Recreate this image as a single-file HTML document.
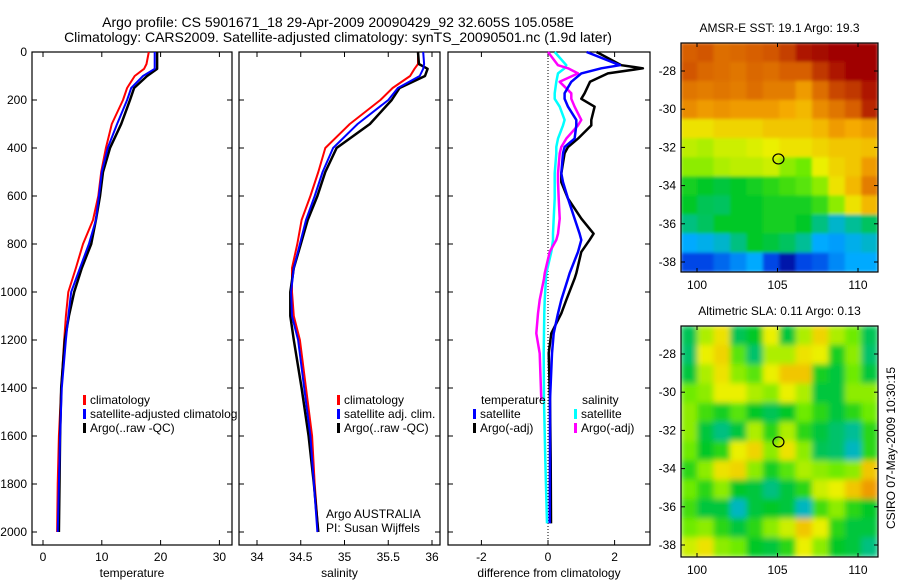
<!DOCTYPE html>
<html><head><meta charset="utf-8">
<style>
html,body{margin:0;padding:0;background:#fff;}
svg{display:block;font-family:"Liberation Sans",sans-serif;}
</style></head>
<body>
<svg id="fig" width="900" height="580" viewBox="0 0 900 580" xmlns="http://www.w3.org/2000/svg">
<text x="338" y="27" font-size="14" text-anchor="middle">Argo profile: CS 5901671_18 29-Apr-2009 20090429_92 32.605S 105.058E</text>
<text x="338" y="42" font-size="14" text-anchor="middle">Climatology: CARS2009. Satellite-adjusted climatology: synTS_20090501.nc (1.9d later)</text>
<g id="plots"></g>
</svg>
<script>
// ---- depth grid ----
const depths = [0,50,70,100,150,200,300,400,500,600,700,800,900,1000,1100,1200,1400,1600,1800,2000];
// temperature
const tempClim = [18.0,17.6,17.2,15.6,14.3,13.6,11.7,10.7,9.9,9.4,8.5,6.8,5.6,4.3,3.9,3.6,3.1,2.7,2.5,2.4];
const tempSat  = [19.0,19.0,19.0,17.0,15.0,14.3,12.6,11.0,10.0,9.5,9.0,7.8,6.3,4.8,4.3,3.9,3.2,2.9,2.7,2.5];
const tempArgo = [19.4,19.4,19.4,17.7,15.5,14.8,13.3,11.4,10.2,9.7,9.0,8.2,6.6,5.3,4.4,3.7,3.1,2.9,2.8,2.7];
// salinity
const salClim = [35.84,35.84,35.80,35.75,35.55,35.41,35.06,34.78,34.70,34.61,34.51,34.46,34.40,34.40,34.42,34.49,34.56,34.63,34.66,34.70];
const salSat  = [35.90,35.91,35.90,35.86,35.61,35.50,35.15,34.87,34.75,34.66,34.56,34.49,34.42,34.39,34.40,34.47,34.54,34.61,34.65,34.69];
const salArgo = [35.84,35.85,35.95,35.92,35.63,35.54,35.29,34.91,34.78,34.69,34.58,34.50,34.42,34.38,34.38,34.42,34.51,34.59,34.65,34.70];
// differences
const diffDepths = [0,55,68,89,124,172,195,228,283,306,361,396,422,506,542,611,694,757,783,833,922,944,1033,1089,1172,1256,1450,1700,1964];
const dTempArgo = [1.46,2.2,2.85,1.8,1.26,1.1,1.0,1.4,1.3,1.3,0.9,0.6,0.5,0.4,0.4,0.6,1.0,1.37,1.25,1.0,0.85,0.8,0.55,0.4,0.1,0.02,0.06,0.08,0.09];
const dTempSat  = [1.16,2.16,1.6,1.0,0.7,0.5,0.5,0.6,0.85,0.85,0.8,0.5,0.45,0.4,0.45,0.6,0.8,0.95,1.0,0.9,0.65,0.6,0.4,0.3,0.17,0.12,0.06,0.06,0.05];
const dSalSat   = [0.2,0.55,0.5,0.3,0.25,0.2,0.2,0.35,0.5,0.45,0.3,0.25,0.25,0.2,0.2,0.2,0.17,0.15,0.15,0.1,-0.05,-0.06,-0.1,-0.11,-0.12,-0.13,-0.12,-0.08,-0.03];
const dSalArgo  = [0.0,0.3,0.6,0.9,0.35,0.7,0.7,0.8,1.0,0.9,0.55,0.4,0.35,0.3,0.3,0.32,0.35,0.3,0.25,0.05,-0.1,-0.12,-0.25,-0.3,-0.35,-0.25,-0.2,null,null];
// ticks
const depthTicks = [0,200,400,600,800,1000,1200,1400,1600,1800,2000];
const tempTicks = [0,10,20,30];
const salTicks = [34,34.5,35,35.5,36];
const salTickLabels = ["34","34.5","35","35.5","36"];
const diffTicks = [-2,0,2];
// maps
const lonTicks = [100,105,110];
const latTicks = [-28,-30,-32,-34,-36,-38];
const floatLon = 105.058, floatLat = -32.605;
const sstGrid = [
[0.88,0.89,0.86,0.87,0.88,0.89,0.92,0.97,0.99,1,1,1],
[0.89,0.87,0.86,0.85,0.87,0.86,0.88,0.88,0.93,0.97,1,1],
[0.85,0.84,0.85,0.84,0.86,0.84,0.84,0.8,0.86,0.91,0.93,0.97],
[0.82,0.8,0.81,0.8,0.8,0.8,0.78,0.76,0.82,0.85,0.88,0.95],
[0.7,0.7,0.72,0.72,0.72,0.74,0.74,0.74,0.76,0.8,0.78,0.8],
[0.65,0.64,0.66,0.66,0.67,0.68,0.7,0.7,0.72,0.74,0.74,0.75],
[0.62,0.62,0.64,0.65,0.65,0.66,0.62,0.6,0.68,0.72,0.74,0.8],
[0.52,0.5,0.48,0.5,0.52,0.54,0.56,0.58,0.62,0.7,0.76,0.84],
[0.5,0.46,0.45,0.5,0.5,0.52,0.52,0.52,0.55,0.62,0.7,0.76],
[0.42,0.45,0.5,0.5,0.5,0.52,0.52,0.5,0.42,0.35,0.4,0.45],
[0.3,0.32,0.35,0.42,0.5,0.48,0.45,0.4,0.3,0.28,0.32,0.35],
[0.15,0.15,0.2,0.25,0.3,0.15,0.05,0.15,0.18,0.25,0.3,0.3]];
const slaGrid = [
[0.46,0.64,0.7,0.46,0.5,0.68,0.48,0.64,0.72,0.64,0.6,0.46],
[0.44,0.68,0.72,0.58,0.44,0.64,0.64,0.7,0.68,0.52,0.62,0.44],
[0.48,0.64,0.7,0.62,0.58,0.68,0.74,0.74,0.52,0.48,0.6,0.48],
[0.6,0.62,0.68,0.68,0.64,0.62,0.68,0.64,0.48,0.48,0.62,0.62],
[0.62,0.56,0.52,0.58,0.5,0.46,0.5,0.6,0.54,0.48,0.54,0.6],
[0.62,0.48,0.42,0.48,0.64,0.54,0.64,0.54,0.48,0.44,0.4,0.54],
[0.6,0.5,0.54,0.68,0.72,0.62,0.7,0.62,0.46,0.44,0.36,0.54],
[0.54,0.62,0.7,0.72,0.62,0.52,0.58,0.64,0.62,0.6,0.62,0.74],
[0.6,0.54,0.62,0.5,0.48,0.42,0.48,0.54,0.66,0.68,0.74,0.8],
[0.56,0.48,0.48,0.36,0.48,0.5,0.48,0.36,0.56,0.62,0.54,0.5],
[0.6,0.62,0.54,0.48,0.54,0.62,0.66,0.74,0.68,0.54,0.48,0.48],
[0.66,0.7,0.62,0.6,0.5,0.48,0.54,0.68,0.62,0.5,0.48,0.42]];

const NS = "http://www.w3.org/2000/svg";
const root = document.getElementById('plots');
function mk(tag, attrs, parent){ const e=document.createElementNS(NS,tag); for(const k in attrs) e.setAttribute(k,attrs[k]); (parent||root).appendChild(e); return e; }

const yTop=52, yPerM=0.24, axBottom=545;
const yD = d => yTop + d*yPerM;
const xT = t => 43 + t*5.88;
const xS = s => 257 + (s-34)*87.5;
const xDf = v => 548 + v*33.3;

function panel(name, x0, x1, xTickVals, xTickLbls, xf, xlabel, showY){
  const g = mk('g',{});
  
  
  const r = mk('rect',{x:x0,y:yTop,width:x1-x0,height:axBottom-yTop,fill:'none',stroke:'#000','stroke-width':1.2},g);
  
  
  depthTicks.forEach(d=>{
    const y=yD(d);
    mk('line',{x1:x0,x2:x0+5,y1:y,y2:y,stroke:'#000'},g);
    mk('line',{x1:x1-5,x2:x1,y1:y,y2:y,stroke:'#000'},g);
    if(showY){
      const t=mk('text',{x:x0-5,y:y+4,'font-size':12,'text-anchor':'end'},g);
      t.textContent=d;
      
      
    }
  });
  xTickVals.forEach((v,i)=>{
    const x=xf(v);
    mk('line',{x1:x,x2:x,y1:axBottom,y2:axBottom-5,stroke:'#000'},g);
    mk('line',{x1:x,x2:x,y1:yTop,y2:yTop+5,stroke:'#000'},g);
    const t=mk('text',{x:x,y:561,'font-size':12,'text-anchor':'middle'},g);
    t.textContent=xTickLbls[i];
    
    
  });
  const xl=mk('text',{x:(x0+x1)/2,y:577,'font-size':12,'text-anchor':'middle'},g);
  xl.textContent=xlabel;
  
  
  return g;
}
function line(g, ds, vals, xf, color, w, name){
  const pts=[];
  ds.forEach((d,i)=>{ if(vals[i]!==null && vals[i]!==undefined) pts.push(xf(vals[i]).toFixed(1)+','+yD(d).toFixed(1)); });
  const p=mk('polyline',{points:pts.join(' '),fill:'none',stroke:color,'stroke-width':w,'stroke-linejoin':'round'},g);
  
  
}
function legend(g, x, y, color, label){
  mk('rect',{x:x,y:y-9,width:3,height:10,fill:color},g);
  const t=mk('text',{x:x+7,y:y,'font-size':12},g);
  t.textContent=label;
  
  
}

const p1=panel('temperature-panel',32,232,tempTicks,tempTicks.map(String),xT,'temperature',true);
line(p1,depths,tempClim,xT,'#f00',2,'temp-climatology-line');
line(p1,depths,tempArgo,xT,'#000',2.5,'temp-argo-line');
line(p1,depths,tempSat,xT,'#00f',2,'temp-satellite-line');
legend(p1,83,404,'#f00','climatology');
legend(p1,83,418,'#00f','satellite-adjusted climatolog');
legend(p1,83,432,'#000','Argo(..raw -QC)');

const p2=panel('salinity-panel',239,440,salTicks,salTickLabels,xS,'salinity',false);
line(p2,depths,salClim,xS,'#f00',2,'sal-climatology-line');
line(p2,depths,salArgo,xS,'#000',2.5,'sal-argo-line');
line(p2,depths,salSat,xS,'#00f',2,'sal-satellite-line');
legend(p2,337,404,'#f00','climatology');
legend(p2,337,418,'#00f','satellite adj. clim.');
legend(p2,337,432,'#000','Argo(..raw -QC)');
const c1=mk('text',{x:326,y:518,'font-size':12},p2); c1.textContent='Argo AUSTRALIA';


const c2=mk('text',{x:326,y:532,'font-size':12},p2); c2.textContent='PI: Susan Wijffels';



const p3=panel('difference-panel',448,650,diffTicks,diffTicks.map(String),xDf,'difference from climatology',false);
const zl=mk('line',{x1:xDf(0),x2:xDf(0),y1:yTop,y2:axBottom,stroke:'#000','stroke-dasharray':'1,2'},p3);


line(p3,diffDepths,dSalSat,xDf,'#0ff',2.5,'sal-satellite-diff-line');
line(p3,diffDepths,dSalArgo,xDf,'#f0f',2.5,'sal-argo-diff-line');
line(p3,diffDepths,dTempArgo,xDf,'#000',2.5,'temp-argo-diff-line');
line(p3,diffDepths,dTempSat,xDf,'#00f',2.5,'temp-satellite-diff-line');
const lt=mk('text',{x:481,y:404,'font-size':12},p3); lt.textContent='temperature';


const ls=mk('text',{x:582,y:404,'font-size':12},p3); ls.textContent='salinity';


legend(p3,473,418,'#00f','satellite');
legend(p3,473,432,'#000','Argo(-adj)');
legend(p3,574,418,'#0ff','satellite');
legend(p3,574,432,'#f0f','Argo(-adj)');

// ---- maps ----
const cstops=[[0,[0,0,140]],[0.15,[0,70,230]],[0.3,[0,170,255]],[0.4,[0,190,150]],[0.5,[0,200,40]],[0.6,[110,235,0]],[0.68,[235,240,0]],[0.78,[245,170,0]],[0.88,[215,95,0]],[1,[160,0,0]]];
function cmap(v){
  v=Math.max(0,Math.min(1,v));
  for(let i=1;i<cstops.length;i++){
    if(v<=cstops[i][0]){
      const a=cstops[i-1],b=cstops[i],f=(v-a[0])/(b[0]-a[0]);
      const c=a[1].map((x,k)=>Math.round(x+(b[1][k]-x)*f));
      return 'rgb('+c.join(',')+')';
    }
  }
  return 'rgb(160,0,0)';
}
const mX0=681, mX1=878;
const xLon = lon => 697 + (lon-100)*16.1;
function map(name, top, bottom, grid, title, blur){
  const g=mk('g',{});
  
  
  const yLat = lat => (top+28) + (-28-lat)*19.1;
  const lon0 = 100 + (mX0-697)/16.1, lon1 = 100 + (mX1-697)/16.1;
  const lat0 = -28 + 28/19.1;
  const rows=grid.length, cols=grid[0].length;
  const dLon=(lon1-lon0)/cols, dLat=(bottom-top)/19.1/rows;
  const cid=name+'-clip';
  const cp=mk('clipPath',{id:cid},g); mk('rect',{x:mX0,y:top,width:mX1-mX0,height:bottom-top},cp);
  const fid=name+'-blur';
  if(blur){ const f=mk('filter',{id:fid,x:'-10%',y:'-10%',width:'120%',height:'120%'},g); mk('feGaussianBlur',{stdDeviation:blur},f); }
  const cg=mk('g',{'clip-path':'url(#'+cid+')'},g);
  const hg=mk('g',blur?{filter:'url(#'+fid+')'}:{},cg);
  for(let r=0;r<rows;r++) for(let c=0;c<cols;c++){
    const lonA=lon0+c*dLon, latA=lat0-r*dLat;
    const x=xLon(lonA), y=yLat(latA);
    const cell=mk('rect',{x:(x-0.3).toFixed(1),y:(y-0.3).toFixed(1),width:(dLon*16.1+0.6).toFixed(1),height:(dLat*19.1+0.6).toFixed(1),fill:cmap(grid[r][c])},hg);
    
    
  }
  const fr=mk('rect',{x:mX0,y:top,width:mX1-mX0,height:bottom-top,fill:'none',stroke:'#000','stroke-width':1.2},g);
  
  
  lonTicks.forEach(l=>{
    const x=xLon(l);
    mk('line',{x1:x,x2:x,y1:bottom,y2:bottom-4,stroke:'#000'},g);
    mk('line',{x1:x,x2:x,y1:top,y2:top+4,stroke:'#000'},g);
    const t=mk('text',{x:x,y:bottom+17,'font-size':12,'text-anchor':'middle'},g); t.textContent=l;
    
    
  });
  latTicks.forEach(l=>{
    const y=yLat(l);
    mk('line',{x1:mX0,x2:mX0+4,y1:y,y2:y,stroke:'#000'},g);
    mk('line',{x1:mX1-4,x2:mX1,y1:y,y2:y,stroke:'#000'},g);
    const t=mk('text',{x:mX0-5,y:y+4,'font-size':12,'text-anchor':'end'},g); t.textContent=l;
    
    
  });
  const mk1=mk('ellipse',{cx:xLon(floatLon),cy:yLat(floatLat),rx:5.5,ry:5,fill:'none',stroke:'#000','stroke-width':1.2},g);
  
  
  const tt=mk('text',{x:(mX0+mX1)/2,y:top-11,'font-size':12,'text-anchor':'middle'},g); tt.textContent=title;
  
  
}
map('sst-map',43,272,sstGrid,'AMSR-E SST: 19.1 Argo: 19.3',1.5);
map('sla-map',326,557,slaGrid,'Altimetric SLA: 0.11 Argo: 0.13',3);

const stamp=mk('text',{x:0,y:0,'font-size':12,'text-anchor':'middle',transform:'translate(895,448) rotate(-90)'});
stamp.textContent='CSIRO 07-May-2009 10:30:15';


</script>
</body></html>
